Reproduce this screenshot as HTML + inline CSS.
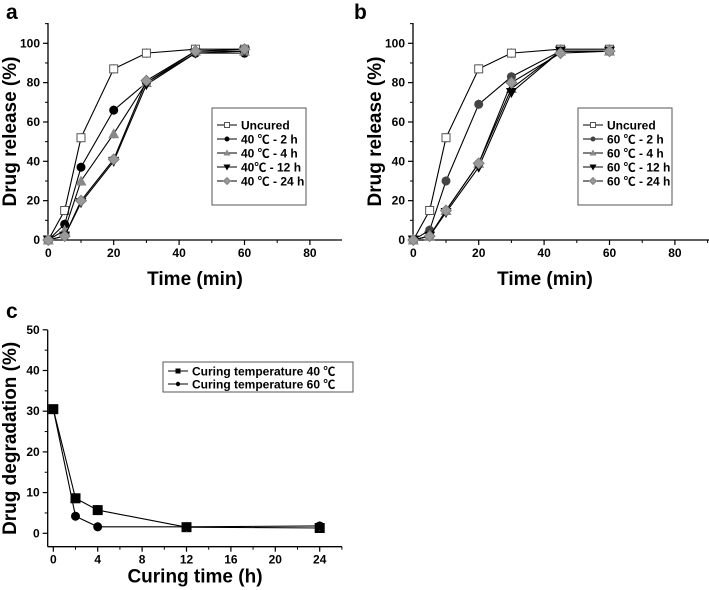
<!DOCTYPE html>
<html><head><meta charset="utf-8"><style>
body{margin:0;background:#fff}
svg{display:block;font-family:"Liberation Sans","Noto Sans CJK SC",sans-serif;font-weight:bold}
</style></head><body>
<svg id="fig" width="709" height="590" viewBox="0 0 709 590"></svg>
<script>
const timeA=[0,5,10,20,30,45,60];
const uncured=[0,15,52,87,95,97,97];
const a2h=[0,8,37,66,80,95,95];
const a4h=[0,5,30,54,80,96,96];
const a12h=[0,2,19,40,79,95,96];
const a24h=[0,2,20,41,81,96,97];
const b2h=[0,5,30,69,83,96,96];
const b4h=[0,2,15,39,77,96,96];
const b12h=[0,2,14,37,75,96,96];
const b24h=[0,2,15,39,80,95,96];
const xTicksAB=[0,20,40,60,80];
const yTicksAB=[0,20,40,60,80,100];
const curingTime=[0,2,4,12,24];
const deg40=[30.5,8.6,5.7,1.5,1.3];
const deg60=[30.5,4.2,1.6,1.6,1.8];
const xTicksC=[0,4,8,12,16,20,24];
const yTicksC=[0,10,20,30,40,50];

const NS="http://www.w3.org/2000/svg";
const svg=document.getElementById('fig');
function el(t,a,p){const e=document.createElementNS(NS,t);for(const k in a)e.setAttribute(k,a[k]);(p||svg).appendChild(e);return e;}

function marker(g,shape,x,y,fill,s){
  let m;
  if(shape==='sq') m=el('rect',{x:x-s,y:y-s,width:2*s,height:2*s,fill:fill,stroke:fill==='#fff'?'#555':'#000','stroke-width':1},g);
  else if(shape==='ci') m=el('circle',{cx:x,cy:y,r:s,fill:fill},g);
  else if(shape==='tu') m=el('polygon',{points:`${x},${y-s-1} ${x-s-1},${y+s} ${x+s+1},${y+s}`,fill:fill},g);
  else if(shape==='td') m=el('polygon',{points:`${x},${y+s+1} ${x-s-1},${y-s} ${x+s+1},${y-s}`,fill:fill},g);
  else m=el('polygon',{points:`${x},${y-s-1} ${x+s+1},${y} ${x},${y+s+1} ${x-s-1},${y}`,fill:fill,stroke:'#777','stroke-width':0.8},g);
  
  
}

function chart(cfg){
  const g=el('g',{});
  
  
  const sx=v=>cfg.x0+(v-cfg.xmin)*cfg.xs, sy=v=>cfg.y0-(v-cfg.ymin)*cfg.ys;
  const ya=el('line',{x1:cfg.ax,y1:cfg.axTop,x2:cfg.ax,y2:cfg.ay,stroke:'#000','stroke-width':1.3},g);
  
  const xa=el('line',{x1:cfg.ax,y1:cfg.ay,x2:cfg.axRight,y2:cfg.ay,stroke:'#000','stroke-width':1.3},g);
  
  cfg.xt.forEach(v=>{
    el('line',{x1:sx(v),y1:cfg.ay,x2:sx(v),y2:cfg.ay+5,stroke:'#000','stroke-width':1.2},g);
    const t=el('text',{x:sx(v),y:cfg.ay+17,'text-anchor':'middle','font-size':12},g);t.textContent=v;
    
  });
  for(let i=0;i<cfg.xt.length-1;i++){const m=(cfg.xt[i]+cfg.xt[i+1])/2;el('line',{x1:sx(m),y1:cfg.ay,x2:sx(m),y2:cfg.ay+3,stroke:'#000'},g);}
  const last=cfg.xt[cfg.xt.length-1],step=cfg.xt[1]-cfg.xt[0];
  if(sx(last+step/2)<cfg.axRight) el('line',{x1:sx(last+step/2),y1:cfg.ay,x2:sx(last+step/2),y2:cfg.ay+3,stroke:'#000'},g);
  cfg.yt.forEach((v,i)=>{
    el('line',{x1:cfg.ax-5,y1:sy(v),x2:cfg.ax,y2:sy(v),stroke:'#000','stroke-width':1.2},g);
    const t=el('text',{x:cfg.ax-8,y:sy(v)+4,'text-anchor':'end','font-size':12},g);t.textContent=v;
    
    if(i<cfg.yt.length-1){const m=(v+cfg.yt[i+1])/2;el('line',{x1:cfg.ax-3,y1:sy(m),x2:cfg.ax,y2:sy(m),stroke:'#000'},g);}
  });
  const yl=cfg.yt[cfg.yt.length-1]+(cfg.yt[1]-cfg.yt[0])/2;
  if(sy(yl)>cfg.axTop) el('line',{x1:cfg.ax-3,y1:sy(yl),x2:cfg.ax,y2:sy(yl),stroke:'#000'},g);
  const xt=el('text',{x:cfg.xtx,y:cfg.ay+cfg.xto,'text-anchor':'middle','font-size':19},g);xt.textContent=cfg.xlabel;
  
  const yy=(cfg.axTop+cfg.ay)/2;
  const yt=el('text',{x:cfg.ytx,y:yy,'text-anchor':'middle','font-size':19,transform:`rotate(-90 ${cfg.ytx} ${yy})`},g);yt.textContent=cfg.ylabel;
  
  const pl=el('text',{x:cfg.plx,y:cfg.ply,'font-size':21},g);pl.textContent=cfg.panel;
  
  cfg.series.forEach(s=>{
    const sg=el('g',{},g);
    
    
    const pts=s.y.map((v,i)=>sx(s.x[i])+','+sy(v)).join(' ');
    el('polyline',{points:pts,fill:'none',stroke:'#000','stroke-width':1.1},sg);
    s.y.forEach((v,i)=>{ if(i>0) el('line',{x1:sx(s.x[i]),y1:sy(v)-5,x2:sx(s.x[i]),y2:sy(v)+5,stroke:'#999','stroke-width':0.8},sg);});
    s.y.forEach((v,i)=>marker(sg,s.shape,sx(s.x[i]),sy(v),s.fill,s.size));
  });
  const L=cfg.legend;
  const lg=el('g',{},g);
  
  el('rect',{x:L.x,y:L.y,width:L.w,height:L.h,fill:'#fff',stroke:'#555','stroke-width':1},lg);
  cfg.series.forEach((s,i)=>{
    const ly=L.y+L.top+i*L.dy;
    const e=el('g',{},lg);
    
    el('line',{x1:L.x+5,y1:ly,x2:L.x+25,y2:ly,stroke:'#000','stroke-width':1},e);
    marker(e,s.shape,L.x+15,ly,s.fill,s.lsize);
    const t=el('text',{x:L.x+29,y:ly+4.5,'font-size':L.fs},e);t.textContent=s.label;
  });
}

const common={xmin:0,ymin:0,xs:65.4/20,ys:196.7/100,y0:240,ay:240,axTop:23,xt:xTicksAB,yt:yTicksAB,xlabel:'Time (min)',ylabel:'Drug release (%)',xto:45};
function ser(lbls,ys){const shapes=['sq','ci','tu','td','di'];const fills=['#fff','#000','#888','#000','#999'];
  return ys.map((y,i)=>({id:lbls[i].replace(/[^a-z0-9]+/gi,'-').toLowerCase(),x:timeA,y:y,shape:shapes[i],fill:fills[i],size:i==0?4:4.5,lsize:2.5,label:lbls[i]}));}
chart(Object.assign({},common,{name:'chart-a',panel:'a',plx:6,ply:19,x0:48.3,ax:48,axRight:342,xtx:195,ytx:16,
  legend:{x:212,y:108,w:94,h:97,top:17,dy:14,fs:12},
  series:ser(['Uncured','40 ℃ - 2 h','40 ℃ - 4 h','40℃ - 12 h','40 ℃ - 24 h'],[uncured,a2h,a4h,a12h,a24h])}));
const sb=ser(['Uncured','60 ℃ - 2 h','60 ℃ - 4 h','60 ℃ - 12 h','60 ℃ - 24 h'],[uncured,b2h,b4h,b12h,b24h]);
sb[1].fill='#444';
chart(Object.assign({},common,{name:'chart-b',panel:'b',plx:354,ply:19,x0:413.3,ax:413,axRight:709,xtx:545,ytx:381,
  legend:{x:578,y:108,w:94,h:97,top:17,dy:14,fs:12},series:sb}));
chart({name:'chart-c',panel:'c',plx:6,ply:318,xmin:0,ymin:0,x0:53.3,xs:44.4/4,y0:533.3,ys:4.07,ax:47.7,ay:546.7,axTop:330,axRight:342,
  xt:xTicksC,yt:yTicksC,xlabel:'Curing time (h)',ylabel:'Drug degradation (%)',xtx:195,ytx:16,xto:36,
  legend:{x:163,y:362,w:190,h:30,top:9,dy:13,fs:12},
  series:[{id:'40c',x:curingTime,y:deg40,shape:'sq',fill:'#000',size:4.5,lsize:2,label:'Curing temperature 40 ℃'},
          {id:'60c',x:curingTime,y:deg60,shape:'ci',fill:'#000',size:4.5,lsize:2.2,label:'Curing temperature 60 ℃'}]});
</script>
</body></html>
